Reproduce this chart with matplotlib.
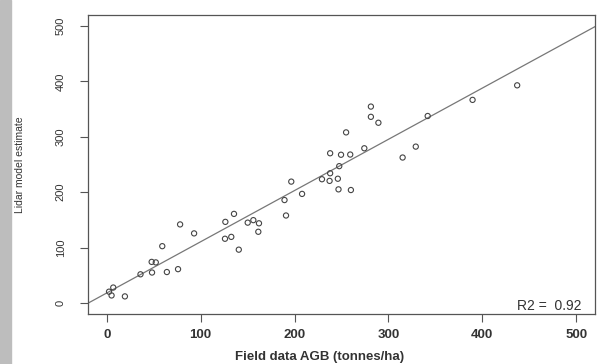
import matplotlib
matplotlib.use("Agg")
import matplotlib.pyplot as plt
from matplotlib.patches import Rectangle

# field AGB vs lidar estimate
field_agb = [2.4, 6.9, 5.1, 19.3, 35.9, 48.2, 64.0, 75.9, 47.8, 52.2,
             59.1, 78.1, 93.0, 126.3, 135.5, 125.9, 132.6, 140.6, 150.1, 156.1,
             162.1, 161.4, 189.3, 190.9, 196.5, 208.0, 229.2, 237.3, 246.1, 237.9,
             247.6, 246.8, 260.0, 237.9, 249.5, 259.3, 274.3, 254.9, 281.3, 281.3,
             289.3, 315.1, 329.1, 341.8, 389.6, 437.1]
lidar_est = [20.3, 27.8, 13.5, 11.8, 51.7, 54.9, 55.8, 61.0, 74.1, 73.2,
             102.5, 141.8, 125.6, 146.4, 160.8, 115.9, 119.3, 96.2, 145.0, 149.5,
             143.8, 128.5, 185.8, 157.9, 219.1, 196.9, 223.4, 220.4, 224.3, 234.2,
             247.0, 205.1, 203.9, 270.3, 267.6, 268.0, 279.3, 308.0, 354.6, 336.1,
             325.4, 262.6, 282.3, 337.6, 366.7, 393.0]
ticks = [0, 100, 200, 300, 400, 500]
fit_a, fit_b = 18.0, 0.925
r2_text = "R2 =  0.92"

txt = "#333333"
narrow = ["Liberation Sans Narrow", "Liberation Sans", "DejaVu Sans"]
sans = ["Liberation Sans", "DejaVu Sans"]

fig = plt.figure(figsize=(5.99, 3.64), dpi=100)
fig.patches.append(Rectangle((0, 0), 11 / 599, 1, transform=fig.transFigure,
                             color="#bdbdbd", zorder=0))
ax = fig.add_axes([88 / 599, 1 - 314 / 364, 507 / 599, 299 / 364])

ax.scatter(field_agb, lidar_est, s=14, facecolors="none", edgecolors="#444444",
           linewidths=0.8, zorder=3)
ax.axline((0, fit_a), slope=fit_b, color="#777777", lw=0.9)

ax.set_xlim(-20, 520)
ax.set_ylim(-20, 520)
ax.set_xticks(ticks)
ax.set_yticks(ticks)
ax.set_xticklabels([str(t) for t in ticks], family=sans, fontsize=9.5,
                   fontweight="bold", color=txt)
ax.set_yticklabels([str(t) for t in ticks], family=narrow, fontsize=8,
                   rotation=90, va="center", color=txt)
ax.tick_params(axis="both", length=6, width=0.8, color="#555555")
ax.tick_params(axis="x", pad=5)
ax.tick_params(axis="y", pad=10)
for sp in ax.spines.values():
    sp.set_color("#555555")
    sp.set_linewidth(0.9)

fig.text(20 / 599, 1 - 165 / 364, "Lidar model estimate", rotation=90,
         ha="center", va="center", family=narrow, fontsize=7.5, color=txt)
fig.text(320 / 599, 1 - 357 / 364, "Field data AGB (tonnes/ha)",
         ha="center", va="center", family=sans, fontsize=9.5, fontweight="bold",
         color=txt)
ax.text(471, -6, r2_text, ha="center", va="center", family=sans,
        fontsize=10, color=txt)

fig.savefig("out.png", dpi=100)
